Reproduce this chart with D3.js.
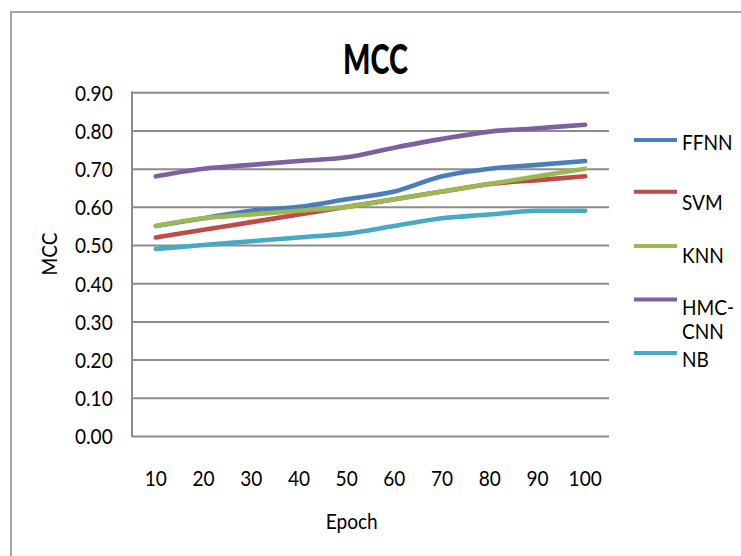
<!DOCTYPE html>
<html>
<head>
<meta charset="utf-8">
<script src="https://cdn.jsdelivr.net/npm/d3@7"></script>
<style>
  html, body { margin: 0; padding: 0; background: #ffffff; }
  svg { display: block; }
  text { font-family: Lato, "Noto Sans", sans-serif; fill: #000; }
</style>
</head>
<body>
<svg id="chart" width="741" height="556"></svg>
<script>
// Epoch values along the x axis
const epochs = [10, 20, 30, 40, 50, 60, 70, 80, 90, 100];

// MCC per model at each epoch
const ffnn   = [0.55, 0.57, 0.59, 0.60, 0.62, 0.64, 0.68, 0.70, 0.71, 0.72];
const svm    = [0.52, 0.54, 0.56, 0.58, 0.60, 0.62, 0.64, 0.66, 0.67, 0.68];
const knn    = [0.55, 0.57, 0.58, 0.59, 0.60, 0.62, 0.64, 0.66, 0.68, 0.70];
const hmccnn = [0.68, 0.70, 0.71, 0.72, 0.73, 0.755, 0.778, 0.797, 0.806, 0.815];
const nb     = [0.49, 0.50, 0.51, 0.52, 0.53, 0.55, 0.57, 0.58, 0.59, 0.59];

const seriesNames = ["FFNN", "SVM", "KNN", "HMC-CNN", "NB"];
const seriesValues = [ffnn, svm, knn, hmccnn, nb];
const seriesColors = ["#4a7ebb", "#be4b48", "#98b954", "#7d60a0", "#46aac5"];

// y axis tick values and labels
const yTicks = [0.0, 0.1, 0.2, 0.3, 0.4, 0.5, 0.6, 0.7, 0.8, 0.9];
const yTickLabels = ["0.00", "0.10", "0.20", "0.30", "0.40", "0.50", "0.60", "0.70", "0.80", "0.90"];

const svg = d3.select("#chart");

// frame around the chart area
svg.append("rect")
  .attr("x", 11).attr("y", 12)
  .attr("width", 760).attr("height", 580)
  .attr("fill", "#fff")
  .attr("stroke", "#a5a5a5")
  .attr("stroke-width", 2);

const plot = { left: 132, right: 609, top: 92.3, bottom: 436 };

const x = d3.scaleBand()
  .domain(epochs)
  .range([plot.left, plot.right])
  .padding(0);

const y = d3.scaleLinear()
  .domain([0, 0.9])
  .range([plot.bottom, plot.top]);

const gridColor = "#8c8c8c";
const textSize = 21.9;      // digits ~15.7px tall
let textSX = 1;             // horizontal squeeze shared by the small labels

// measure the squeeze from a sample label
{
  const probe = svg.append("text").attr("font-size", textSize).text("0.90");
  const w = probe.node().getComputedTextLength();
  textSX = 37.7 / w;
  probe.remove();
}
const textSY = 1;

// horizontal gridlines and y tick labels
const yAxis = d3.axisLeft(y)
  .tickValues(yTicks)
  .tickFormat((d, i) => yTickLabels[i])
  .tickSize(-(plot.right - plot.left))
  .tickPadding(19.3);

const gy = svg.append("g")
  .attr("transform", `translate(${plot.left},0)`)
  .call(yAxis);
gy.select(".domain").remove();
gy.selectAll(".tick line")
  .attr("stroke", gridColor)
  .attr("stroke-width", 2);
gy.selectAll(".tick text")
  .attr("x", null).attr("dy", null)
  .attr("font-size", textSize)
  .attr("font-family", "Lato, sans-serif")
  .attr("transform", `translate(-19.3,7.8) scale(${textSX},${textSY})`);

// vertical axis line
svg.append("line")
  .attr("x1", plot.left).attr("x2", plot.left)
  .attr("y1", y(0.9) - 1).attr("y2", y(0) + 1)
  .attr("stroke", gridColor)
  .attr("stroke-width", 2);

// x axis category labels
const xAxis = d3.axisBottom(x).tickSize(0).tickPadding(0);
const gx = svg.append("g")
  .attr("transform", `translate(0,${plot.bottom})`)
  .call(xAxis);
gx.select(".domain").remove();
gx.selectAll(".tick text")
  .attr("y", null).attr("dy", null)
  .attr("font-size", textSize)
  .attr("font-family", "Lato, sans-serif")
  .attr("transform", `translate(0,49.7) scale(${textSX},${textSY})`);

// series lines
const line = d3.line()
  .x((d, i) => x(epochs[i]) + x.bandwidth() / 2)
  .y(d => y(d))
  .curve(d3.curveMonotoneX);

seriesValues.forEach((vals, k) => {
  svg.append("path")
    .datum(vals)
    .attr("fill", "none")
    .attr("stroke", seriesColors[k])
    .attr("stroke-width", 4.6)
    .attr("stroke-linecap", "round")
    .attr("stroke-linejoin", "round")
    .attr("d", line);
});

// small text helper: baseline at (tx, ty)
function label(tx, ty, str, anchor, extra) {
  return svg.append("text")
    .attr("font-size", textSize)
    .attr("text-anchor", anchor || "start")
    .attr("transform", `translate(${tx},${ty}) ${extra || ""} scale(${textSX},${textSY})`)
    .text(str);
}

// legend
const legendLineY = [140, 191.7, 246, 299.5, 353];
const legendText = [
  [{ t: "FFNN", b: 150 }],
  [{ t: "SVM", b: 210 }],
  [{ t: "KNN", b: 263.3 }],
  [{ t: "HMC-", b: 315 }, { t: "CNN", b: 339 }],
  [{ t: "NB", b: 366.5 }]
];
seriesNames.forEach((name, k) => {
  svg.append("line")
    .attr("x1", 634).attr("x2", 677)
    .attr("y1", legendLineY[k]).attr("y2", legendLineY[k])
    .attr("stroke", seriesColors[k])
    .attr("stroke-width", 4);
  legendText[k].forEach(row => label(682, row.b, row.t));
});

// axis titles
label(351.7, 529, "Epoch", "middle");
label(57, 254, "MCC", "middle", "rotate(-90)");

// chart title, fitted to its box
{
  const title = svg.append("text")
    .attr("font-size", 42.5)
    .attr("font-weight", 900)
    .attr("text-anchor", "middle")
    .text("MCC");
  const w = title.node().getComputedTextLength();
  title.attr("transform", `translate(375.5,74) scale(${65 / w},1)`);
}
</script>
</body>
</html>
